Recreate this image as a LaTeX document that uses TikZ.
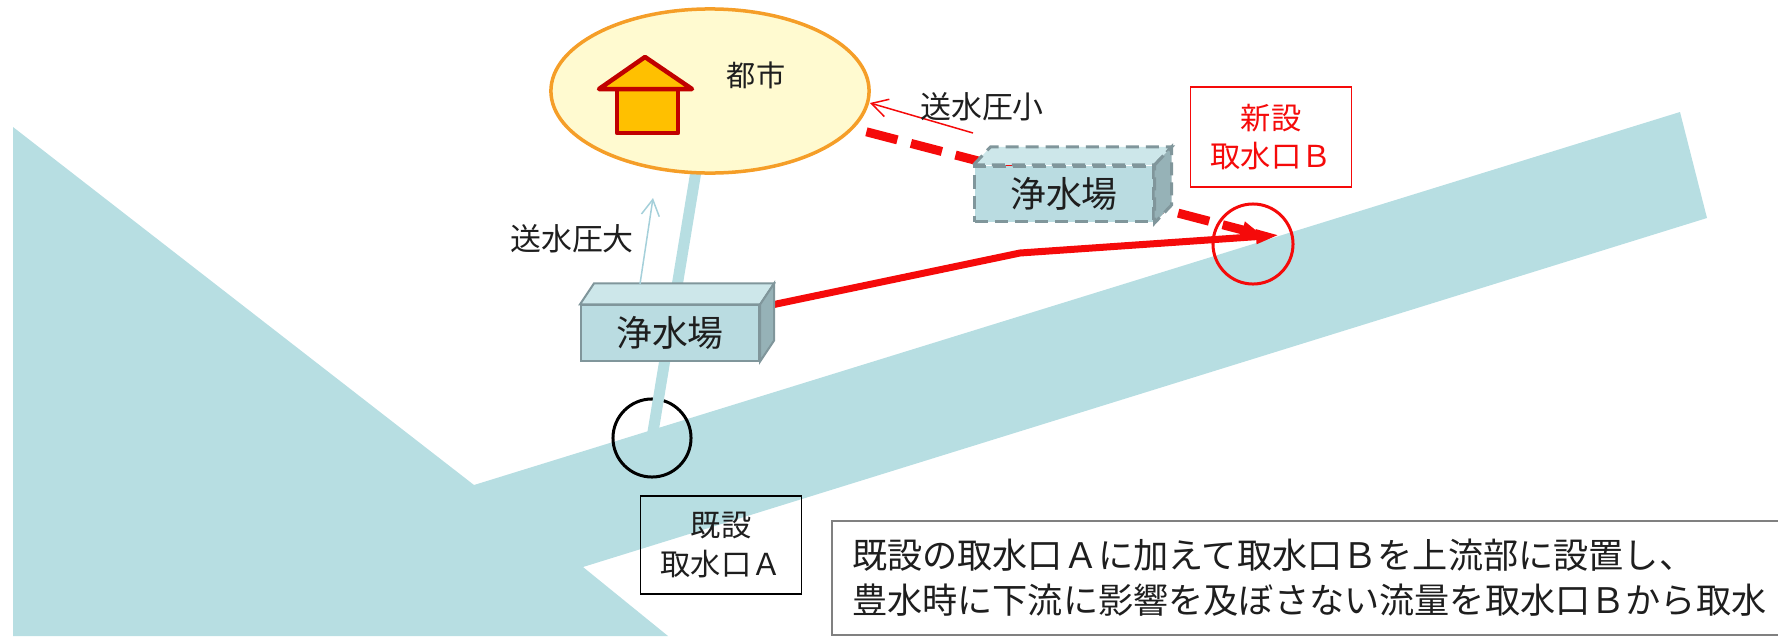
\documentclass[tikz,border=0pt]{standalone}
\usepackage{fontspec}
\setmainfont{Noto Sans CJK JP}
\definecolor{river}{RGB}{183,222,226}
\definecolor{boxfront}{RGB}{186,220,225}
\definecolor{boxtop}{RGB}{205,231,234}
\definecolor{boxside}{RGB}{150,178,183}
\definecolor{boxline}{RGB}{128,150,155}
\definecolor{cityfill}{RGB}{255,250,208}
\definecolor{cityline}{RGB}{245,158,40}
\definecolor{housefill}{RGB}{255,192,0}
\definecolor{houseline}{RGB}{192,0,0}
\definecolor{pipered}{RGB}{245,10,10}
\definecolor{arrowblue}{RGB}{165,208,218}
\definecolor{txt}{RGB}{30,30,30}
\usetikzlibrary{arrows.meta,positioning,shapes.geometric,calc}

\begin{document}
\begin{tikzpicture}[x=0.01cm, y=-0.01cm,
    plant/.style={rectangle, minimum width=1.78cm, minimum height=0.55cm, inner sep=0pt,
      draw=boxline, fill=boxfront, line width=0.2mm, text=txt, font=\fontsize{10.2}{12}\selectfont},
    newplant/.style={plant, dashed, dash pattern=on 1.3mm off 0.7mm, line width=0.3mm},
    intake/.style={circle, minimum size=0.78cm, inner sep=0pt, line width=0.3mm},
    labelbox/.style={rectangle, minimum width=1.61cm, minimum height=0.98cm, align=center,
      line width=0.15mm, font=\fontsize{8.6}{11}\selectfont},
    small/.style={text=txt, font=\fontsize{8.8}{10}\selectfont},
    house/.style={fill=housefill, draw=houseline, line width=0.45mm, line join=round},
    pipe/.style={river, line width=1.1mm},
    newpipe/.style={pipered, line width=0.7mm, -{Triangle[length=2.4mm,width=1.3mm]}},
    newroute/.style={pipered, line width=0.9mm, dash pattern=on 3.2mm off 1.4mm,
      shorten <=1.3mm, -{Triangle[length=2mm,width=1.6mm]}},
    press/.style={line width=0.15mm, -{Straight Barb[length=1.6mm,width=1.8mm]}}
  ]
    \useasboundingbox (0,0) rectangle (1778,636);
    \clip (0,0) rectangle (1778,636);

    % river and its branch
    \fill[river] (13,127) -- (474,485) -- (1680,112) -- (1707,218) -- (583,567)
      -- (668,636) -- (13,636) -- cycle;

    \node[intake, draw=black]   (intakeA) at (652,438) {};
    \node[intake, draw=pipered, minimum size=0.8cm] (intakeB) at (1253,244) {};
    \coordinate (tipB)  at (1262,235);
    \coordinate (tipB2) at (1280,235);
    \coordinate (bend)  at (1020,253);
    \coordinate (pipeTop) at (697,165);

    \draw[pipe] (intakeA.center) -- (pipeTop);

    % city
    \node[ellipse, minimum width=3.18cm, minimum height=1.64cm, fill=cityfill,
      draw=cityline, line width=0.35mm] (city) at (710,91) {};
    \filldraw[house] (617,89) rectangle (678,133);
    \filldraw[house] (599,89) -- (645,57) -- (692,89) -- cycle;
    \node[txt, font=\fontsize{8.3}{10}\selectfont] (cityname) at (756,75) {都市};

    % new route from intake B
    \draw[newroute] (city) -- (tipB);

    \node[plant] (plantA) at (670,333) {浄水場};
    \draw[newpipe] ($(plantA.north east)+(14,0)$) -- (bend) -- (tipB2);

    % plant boxes with top and side faces
    \filldraw[fill=boxtop, draw=boxline, line width=0.2mm] (plantA.north west) -- ++(14,-21)
      -- ([shift={(14,-21)}]plantA.north east) -- (plantA.north east) -- cycle;
    \filldraw[fill=boxside, draw=boxline, line width=0.2mm] (plantA.north east) -- ++(14,-21)
      -- ([shift={(14,-21)}]plantA.south east) -- (plantA.south east) -- cycle;

    \node[newplant] (plantB) at (1064,194) {浄水場};
    \filldraw[fill=boxtop, draw=boxline, dashed, dash pattern=on 1.3mm off 0.7mm, line width=0.3mm]
      (plantB.north west) -- ++(17,-18)
      -- ([shift={(17,-18)}]plantB.north east) -- (plantB.north east) -- cycle;
    \filldraw[fill=boxside, draw=boxline, dashed, dash pattern=on 1.3mm off 0.7mm, line width=0.3mm]
      (plantB.north east) -- ++(17,-18)
      -- ([shift={(17,-18)}]plantB.south east) -- (plantB.south east) -- cycle;

    % delivery pressure
    \coordinate (pressA) at (640,284);
    \coordinate (pressAend) at (653,198);
    \coordinate (pressB) at (973,133);
    \coordinate (pressBend) at (870,103);
    \draw[press, arrowblue] (pressA) -- (pressAend);
    \draw[press, pipered] (pressB) -- (pressBend);
    \node[small] (bigP)   at (572,239) {送水圧大};
    \node[small] (smallP) at (982,107) {送水圧小};

    % labels
    \node[labelbox, draw=black, text=txt] (labelA) at (721,545) {既設\\取水口Ａ};
    \node[labelbox, draw=pipered, text=pipered, minimum height=1.0cm] (labelB) at (1271,137) {新設\\取水口Ｂ};

    \node[draw=gray, line width=0.2mm, anchor=north west, text width=9.4cm, inner xsep=0.2cm,
      minimum height=1.14cm, align=left, text=txt, font=\fontsize{10}{12.8}\selectfont]
      (note) at (831,520) {既設の取水口Ａに加えて取水口Ｂを上流部に設置し、\\豊水時に下流に影響を及ぼさない流量を取水口Ｂから取水};
  \end{tikzpicture}
\end{document}
